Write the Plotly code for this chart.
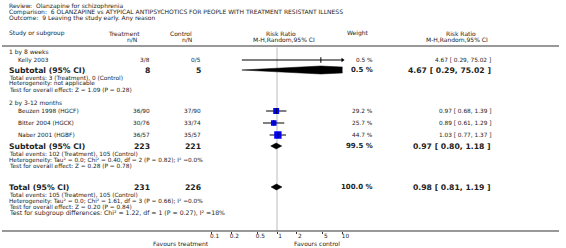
import plotly.graph_objects as go

# ---------------- data ----------------
review = "Review:  Olanzapine for schizophrenia"
comparison = "Comparison:  6 OLANZAPINE vs ATYPICAL ANTIPSYCHOTICS FOR PEOPLE WITH TREATMENT RESISTANT ILLNESS"
outcome = "Outcome:  9 Leaving the study early. Any reason"

subgroup_names = ["1 by 8 weeks", "2 by 3-12 months"]
studies = ["Kelly 2003", "Beuzen 1998 (HGCF)", "Bitter 2004 (HGCK)", "Naber 2001 (HGBF)"]
study_group = [0, 1, 1, 1]
treat_nN = ["3/8", "36/90", "30/76", "36/57"]
ctrl_nN = ["0/5", "37/90", "33/74", "35/57"]
study_rr = [4.67, 0.97, 0.89, 1.03]
study_lo = [0.29, 0.68, 0.61, 0.77]
study_hi = [75.02, 1.39, 1.29, 1.37]
study_w = [0.5, 29.2, 25.7, 44.7]

sub_treat_N = [8, 223]
sub_ctrl_N = [5, 221]
sub_rr = [4.67, 0.97]
sub_lo = [0.29, 0.80]
sub_hi = [75.02, 1.18]
sub_w = [0.5, 99.5]
sub_notes = [
    ["Total events: 3 (Treatment), 0 (Control)",
     "Heterogeneity: not applicable",
     "Test for overall effect: Z = 1.09 (P = 0.28)"],
    ["Total events: 102 (Treatment), 105 (Control)",
     "Heterogeneity: Tau² = 0.0; Chi² = 0.40, df = 2 (P = 0.82); I² =0.0%",
     "Test for overall effect: Z = 0.28 (P = 0.78)"],
]

total_treat_N = 231
total_ctrl_N = 226
total_rr = 0.98
total_lo = 0.81
total_hi = 1.19
total_w = 100.0
total_notes = [
    "Total events: 105 (Treatment), 105 (Control)",
    "Heterogeneity: Tau² = 0.0; Chi² = 1.61, df = 3 (P = 0.66); I² =0.0%",
    "Test for overall effect: Z = 0.20 (P = 0.84)",
    "Test for subgroup differences: Chi² = 1.22, df = 1 (P = 0.27), I² =18%",
]

tick_vals = [0.1, 0.2, 0.5, 1, 2, 5, 10]
tick_text = ["0.1", "0.2", "0.5", "1", "2", "5", "10"]
favours_left = "Favours treatment"
favours_right = "Favours control"

# ---------------- layout (pixel rows) ----------------
W, H = 566, 248
AXIS_Y = 231
FONT = "DejaVu Sans"
TXT = "#222222"

row_head = [5.5, 12, 18.5, 33, 39.5]
row_sub_head = [52.5, 103]
row_study = [60, 111, 123, 135]
row_subtotal = [70, 146]
row_sub_notes = [[78, 84, 90], [154, 160, 166]]
row_total = 187
row_total_notes = [195, 201, 207, 213]

X_LEFT = 5
X_INDENT = 14
X_TREAT = 152
X_CTRL = 204
X_W = 379
X_CI = 499

S_HEAD = 6.0
S_COL = 6.0
S_ROW = 5.8
S_NOTE = 5.8
S_BOLD = 7.7

fig = go.Figure()
ann = []


def text(x, y, s, size=S_ROW, anchor="left", bold=False, color=TXT):
    ann.append(dict(x=x / W, xref="paper", y=1 - y / H, yref="paper",
                    text=("<b>%s</b>" % s) if bold else s,
                    showarrow=False, xanchor=anchor, yanchor="middle",
                    font=dict(family=FONT, size=size, color=color)))


def ci(lo, rr, hi):
    return "%.2f [ %.2f, %.2f ]" % (rr, lo, hi)


# header
text(X_LEFT, row_head[0], review, S_HEAD)
text(X_LEFT, row_head[1], comparison, S_HEAD)
text(X_LEFT, row_head[2], outcome, S_HEAD)
text(X_LEFT, row_head[3], "Study or subgroup", S_COL)
text(124, row_head[3], "Treatment", S_COL, "center")
text(132, row_head[4], "n/N", S_COL, "center")
text(182, row_head[3], "Control", S_COL, "center")
text(188, row_head[4], "n/N", S_COL, "center")
text(283, row_head[3], "Risk Ratio", S_COL, "center")
text(287, row_head[4], "M-H,Random,95% CI", S_COL, "center")
text(362, row_head[3], "Weight", S_COL, "center")
text(466, row_head[3], "Risk Ratio", S_COL, "center")
text(462, row_head[4], "M-H,Random,95% CI", S_COL, "center")

# vertical line at RR = 1
fig.add_trace(go.Scatter(x=[1, 1], y=[47.5, AXIS_Y], mode="lines",
                         line=dict(color="#dddddd", width=2), hoverinfo="skip"))

# subgroups
for g in range(2):
    text(X_LEFT, row_sub_head[g], subgroup_names[g], S_COL)
    for i, s in enumerate(studies):
        if study_group[i] != g:
            continue
        y = row_study[i]
        text(X_INDENT, y, s, S_ROW)
        text(X_TREAT, y, treat_nN[i], S_ROW, "right")
        text(X_CTRL, y, ctrl_nN[i], S_ROW, "right")
        text(X_W, y, "%.1f %%" % study_w[i], S_ROW, "right")
        text(X_CI, y, ci(study_lo[i], study_rr[i], study_hi[i]), S_ROW, "right")
        hi = min(study_hi[i], tick_vals[-1])
        fig.add_trace(go.Scatter(x=[study_lo[i], hi], y=[y, y], mode="lines",
                                 line=dict(color="black", width=1), hoverinfo="skip"))
        if study_hi[i] > tick_vals[-1]:
            fig.add_trace(go.Scatter(x=[tick_vals[-1]], y=[y], mode="markers", cliponaxis=False,
                                     marker=dict(symbol="triangle-right", size=4, color="black"),
                                     hoverinfo="skip"))
        sz = 1.1 * study_w[i] ** 0.5
        if sz > 2:
            fig.add_trace(go.Scatter(x=[study_rr[i]], y=[y], mode="markers",
                                     marker=dict(symbol="square", size=sz, color="#0000ff",
                                                 line=dict(width=0)), hoverinfo="skip"))
        fig.add_trace(go.Scatter(x=[study_rr[i]], y=[y], mode="markers",
                                 marker=dict(symbol="line-ns", size=4,
                                             line=dict(color="black", width=1)), hoverinfo="skip"))
    y = row_subtotal[g]
    text(X_LEFT, y, "Subtotal (95% CI)", S_BOLD, bold=True)
    text(X_TREAT, y, str(sub_treat_N[g]), S_BOLD, "right", bold=True)
    text(X_CTRL, y, str(sub_ctrl_N[g]), S_BOLD, "right", bold=True)
    text(X_W, y, "%.1f %%" % sub_w[g], 7.0, "right", bold=True)
    text(X_CI, y, ci(sub_lo[g], sub_rr[g], sub_hi[g]), S_BOLD, "right", bold=True)
    h = 4 if g == 0 else 3
    fig.add_trace(go.Scatter(x=[sub_lo[g], sub_rr[g], sub_hi[g], sub_rr[g], sub_lo[g]],
                             y=[y, y - h, y, y + h, y], mode="lines", fill="toself",
                             fillcolor="black", line=dict(color="black", width=0.5),
                             hoverinfo="skip"))
    for k, nt in enumerate(sub_notes[g]):
        text(X_LEFT, row_sub_notes[g][k], nt, S_NOTE)

# total
y = row_total
text(X_LEFT, y, "Total (95% CI)", S_BOLD, bold=True)
text(X_TREAT, y, str(total_treat_N), S_BOLD, "right", bold=True)
text(X_CTRL, y, str(total_ctrl_N), S_BOLD, "right", bold=True)
text(X_W, y, "%.1f %%" % total_w, 7.0, "right", bold=True)
text(X_CI, y, ci(total_lo, total_rr, total_hi), S_BOLD, "right", bold=True)
fig.add_trace(go.Scatter(x=[total_lo, total_rr, total_hi, total_rr, total_lo],
                         y=[y, y - 3, y, y + 3, y], mode="lines", fill="toself",
                         fillcolor="black", line=dict(color="black", width=0.5),
                         hoverinfo="skip"))
for k, nt in enumerate(total_notes):
    text(X_LEFT, row_total_notes[k], nt, S_NOTE if k < 3 else 6.2)

# favours
text(212, 243, favours_left, 6.0, "right")
text(346, 243, favours_right, 6.0, "right")

shapes = [
    dict(type="line", xref="paper", yref="paper", x0=0, x1=1, y0=1 - 46 / H, y1=1 - 46 / H,
         line=dict(color="#999999", width=2)),
    dict(type="line", xref="paper", yref="paper", x0=0, x1=1,
         y0=1 - AXIS_Y / H, y1=1 - AXIS_Y / H, line=dict(color="#333333", width=1)),
]

fig.update_layout(
    width=W, height=H, margin=dict(l=0, r=0, t=0, b=0),
    paper_bgcolor="white", plot_bgcolor="white", showlegend=False,
    annotations=ann, shapes=shapes,
    xaxis=dict(type="log", range=[-1, 1], domain=[213 / W, 346 / W],
               tickvals=tick_vals, ticktext=tick_text, ticks="outside", ticklen=2,
               tickcolor="#333333", showgrid=False, zeroline=False, showline=False,
               tickfont=dict(family=FONT, size=5.8, color=TXT), ticklabelshift=3,
               ticklabelstandoff=-3),
    yaxis=dict(range=[AXIS_Y, 0], domain=[(H - AXIS_Y) / H, 1], visible=False),
)

fig.write_html("out.html", config={"displayModeBar": False},
               post_script="document.body.style.margin='0';")
